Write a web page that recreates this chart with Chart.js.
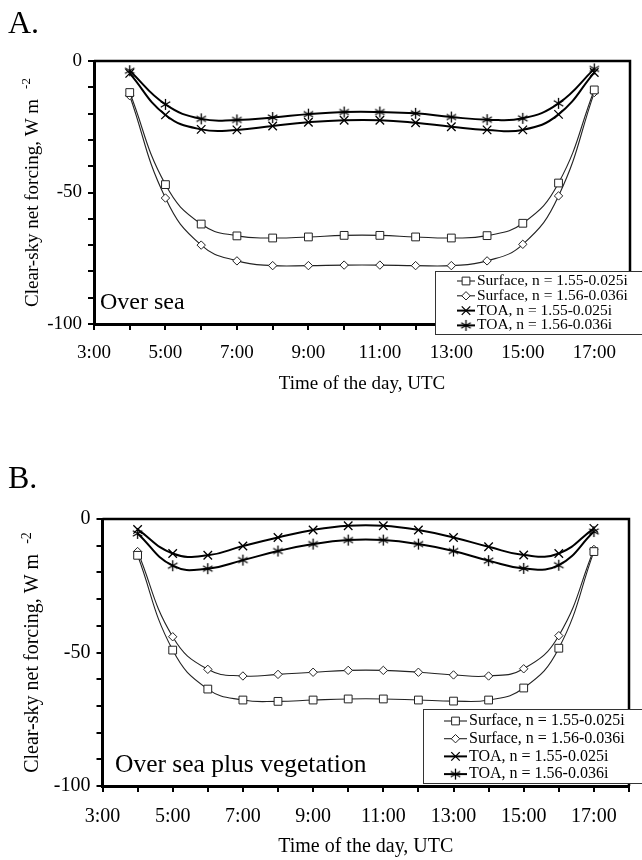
<!DOCTYPE html>
<html>
<head>
<meta charset="utf-8">
<script src="https://cdn.jsdelivr.net/npm/chart.js@4.4.1/dist/chart.umd.min.js"></script>
<style>
  body { margin: 0; background: #fff; width: 642px; height: 860px; position: relative; overflow: hidden; }
  canvas { position: absolute; left: 0; }
</style>
</head>
<body>
<canvas id="chartA" width="642" height="430" style="top:0"></canvas>
<canvas id="chartB" width="642" height="430" style="top:430px"></canvas>
<script>
// hours of the day (UTC) with model output
const hours = [4, 5, 6, 7, 8, 9, 10, 11, 12, 13, 14, 15, 16, 17];
const xTickLabels = [3, 5, 7, 9, 11, 13, 15, 17];
const yTickLabels = [0, -50, -100];

const seriesNames = ['Surface, n = 1.55-0.025i', 'Surface, n = 1.56-0.036i', 'TOA, n = 1.55-0.025i', 'TOA, n = 1.56-0.036i'];

// A. over sea
const seaSurf155 = [-12.0, -47.0, -62.0, -66.5, -67.3, -66.9, -66.3, -66.3, -66.9, -67.3, -66.4, -61.7, -46.4, -11.0];
const seaSurf156 = [-13.2, -52.1, -70.0, -76.0, -77.8, -77.8, -77.6, -77.6, -77.8, -77.8, -76.0, -69.7, -51.3, -12.0];
const seaToa155 = [-4.7, -20.5, -26.0, -26.2, -24.7, -23.3, -22.5, -22.5, -23.5, -25.0, -26.2, -26.2, -20.3, -4.4];
const seaToa156 = [-3.7, -16.5, -22.0, -22.4, -21.5, -20.2, -19.4, -19.4, -19.9, -21.3, -22.3, -21.8, -16.1, -3.0];

// B. over sea plus vegetation
const vegSurf155 = [-13.6, -49.1, -63.7, -67.8, -68.3, -67.8, -67.4, -67.4, -67.8, -68.2, -67.8, -63.3, -48.4, -12.2];
const vegSurf156 = [-12.2, -44.1, -56.3, -58.8, -58.2, -57.4, -56.7, -56.7, -57.4, -58.4, -58.8, -56.1, -43.7, -11.4];
const vegToa155 = [-3.9, -12.9, -13.6, -10.1, -6.9, -4.1, -2.5, -2.5, -4.1, -6.9, -10.4, -13.5, -12.9, -3.5];
const vegToa156 = [-5.4, -17.5, -18.6, -15.4, -12.0, -9.4, -7.9, -7.9, -9.4, -12.0, -15.6, -18.5, -17.3, -4.7];

// six-armed asterisk marker
function asteriskMarker(size) {
  const c = document.createElement('canvas');
  c.width = size; c.height = size;
  const g = c.getContext('2d');
  const m = size / 2, r = size / 2 - 1;
  g.strokeStyle = '#000';
  g.lineWidth = 1.3;
  g.beginPath();
  for (const a of [90, 30, 150]) {
    const dx = Math.cos(a * Math.PI / 180) * r, dy = Math.sin(a * Math.PI / 180) * r;
    g.moveTo(m - dx, m - dy); g.lineTo(m + dx, m + dy);
  }
  g.stroke();
  return c;
}
const star = asteriskMarker(13);

const markers = [
  { pointStyle: 'rect', radius: 5.5, lineWidth: 1.1, color: '#222' },
  { pointStyle: 'rectRot', radius: 4.2, lineWidth: 1.1, color: '#222' },
  { pointStyle: 'crossRot', radius: 6, lineWidth: 2, color: '#000' },
  { pointStyle: star, radius: 6, lineWidth: 2, color: '#000' }
];

const decorations = {
  id: 'decorations',
  afterDraw(chart, args, o) {
    const { ctx, chartArea: a } = chart;
    ctx.save();
    // frame on top and right
    ctx.strokeStyle = '#000';
    ctx.lineWidth = 2.5;
    ctx.beginPath();
    ctx.moveTo(a.left, a.top); ctx.lineTo(a.right, a.top); ctx.lineTo(a.right, a.bottom);
    ctx.stroke();

    ctx.fillStyle = '#000';
    // panel tag
    ctx.font = '32px "Liberation Serif"';
    ctx.textBaseline = 'alphabetic';
    ctx.textAlign = 'left';
    ctx.fillText(o.tag, 8, o.tagY);

    // note inside plot
    ctx.font = o.noteSize + 'px "Liberation Serif"';
    ctx.fillText(o.note, o.noteX, o.noteY);

    // x title
    ctx.font = o.fontSize + 'px "Liberation Serif"';
    ctx.textAlign = 'center';
    ctx.textBaseline = 'middle';
    ctx.fillText('Time of the day, UTC', (a.left + a.right) / 2, o.xTitleY);

    // y title with superscript
    const main = 'Clear-sky net forcing, W m';
    const mw = ctx.measureText(main).width;
    ctx.font = Math.round(o.fontSize * 0.7) + 'px "Liberation Serif"';
    const sw = ctx.measureText('-2').width;
    const gap = 10;
    const cy = (a.top + a.bottom) / 2;
    const y0 = cy + (mw + gap + sw) / 2;
    ctx.save();
    ctx.translate(o.yTitleX, y0);
    ctx.rotate(-Math.PI / 2);
    ctx.textAlign = 'left';
    ctx.font = o.fontSize + 'px "Liberation Serif"';
    ctx.fillText(main, 0, 0);
    ctx.font = Math.round(o.fontSize * 0.7) + 'px "Liberation Serif"';
    ctx.fillText('-2', mw + gap, -6);
    ctx.restore();

    // legend box
    const L = o.legend;
    ctx.fillStyle = '#fff';
    ctx.fillRect(L.x, L.y, 660 - L.x, L.h);
    ctx.strokeStyle = '#333';
    ctx.lineWidth = 1;
    ctx.strokeRect(L.x + 0.5, L.y + 0.5, 660 - L.x, L.h);
    ctx.font = L.size + 'px "Liberation Serif"';
    ctx.textAlign = 'left';
    ctx.textBaseline = 'middle';
    chart.data.datasets.forEach((ds, i) => {
      const ry = L.y + L.first + i * L.step;
      const mk = markers[i];
      ctx.strokeStyle = mk.color;
      ctx.lineWidth = mk.lineWidth;
      ctx.beginPath();
      ctx.moveTo(L.x + L.sx0, ry); ctx.lineTo(L.x + L.sx1, ry);
      ctx.stroke();
      ctx.fillStyle = '#fff';
      ctx.lineWidth = mk.lineWidth > 1.5 ? 1.3 : 1;
      Chart.helpers.drawPoint(ctx, { pointStyle: mk.pointStyle, radius: mk.radius, rotation: 0, borderWidth: 1 }, L.x + (L.sx0 + L.sx1) / 2, ry);
      ctx.fillStyle = '#000';
      ctx.fillText(ds.label, L.x + L.sx1 + 2, ry);
    });
    ctx.restore();
  }
};

function buildChart(id, values, area, deco) {
  const canvas = document.getElementById(id);
  const H = canvas.height;
  const datasets = values.map((vals, i) => ({
    label: seriesNames[i],
    data: hours.map((h, k) => ({ x: h, y: vals[k] })),
    borderColor: markers[i].color,
    borderWidth: markers[i].lineWidth,
    tension: 0.45,
    pointStyle: markers[i].pointStyle,
    pointRadius: markers[i].radius,
    pointBackgroundColor: '#fff',
    pointBorderColor: markers[i].color,
    pointBorderWidth: markers[i].lineWidth > 1.5 ? 1.3 : 1
  }));
  const font = { family: '"Liberation Serif"', size: deco.fontSize };
  return new Chart(canvas, {
    type: 'line',
    data: { datasets: datasets },
    options: {
      responsive: false,
      animation: false,
      devicePixelRatio: 1,
      layout: { padding: { top: area.top, right: 642 - area.right, left: 0, bottom: 0 } },
      scales: {
        x: {
          type: 'linear', min: 3, max: 18,
          afterFit: s => { s.height = H - area.bottom; },
          border: { display: true, color: '#000', width: 3 },
          grid: { drawOnChartArea: false, drawTicks: true, tickLength: 6, color: '#000', lineWidth: 2 },
          ticks: {
            stepSize: 1, autoSkip: false, maxRotation: 0, color: '#000', font: font, padding: deco.xTickPad,
            callback: v => xTickLabels.includes(v) ? v + ':00' : ''
          }
        },
        y: {
          min: -100, max: 0,
          afterFit: s => { s.width = area.left; },
          border: { display: true, color: '#000', width: 3 },
          grid: { drawOnChartArea: false, drawTicks: true, tickLength: 6, color: '#000', lineWidth: 2 },
          ticks: {
            stepSize: 10, autoSkip: false, color: '#000', font: font, padding: 6,
            callback: v => yTickLabels.includes(v) ? String(v) : ''
          }
        }
      },
      plugins: {
        legend: { display: false },
        tooltip: { enabled: false },
        decorations: deco
      }
    },
    plugins: [decorations]
  });
}

buildChart('chartA', [seaSurf155, seaSurf156, seaToa155, seaToa156],
  { left: 94, right: 638, top: 61, bottom: 324 },
  {
    tag: 'A.', tagY: 33, note: 'Over sea', noteX: 100, noteY: 309, noteSize: 24,
    fontSize: 19, xTickPad: 12, xTitleY: 384, yTitleX: 33,
    legend: { x: 435, y: 271, h: 63, first: 10, step: 14.8, sx0: 22, sx1: 40, size: 15.5 }
  });

buildChart('chartB', [vegSurf155, vegSurf156, vegToa155, vegToa156],
  { left: 102.5, right: 638.5, top: 89, bottom: 356 },
  {
    tag: 'B.', tagY: 58, note: 'Over sea plus vegetation', noteX: 115, noteY: 342, noteSize: 25.5,
    fontSize: 20, xTickPad: 13, xTitleY: 417, yTitleX: 33,
    legend: { x: 423, y: 279, h: 74, first: 12, step: 17.7, sx0: 21, sx1: 44, size: 16 }
  });
</script>
</body>
</html>
